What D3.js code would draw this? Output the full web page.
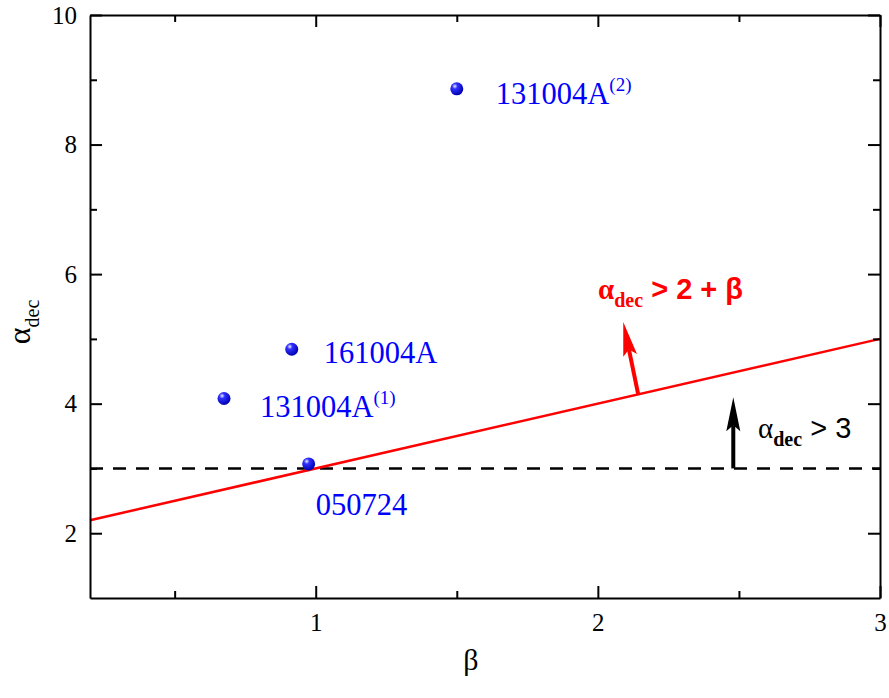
<!DOCTYPE html>
<html>
<head>
<meta charset="utf-8">
<script src="https://cdn.jsdelivr.net/npm/d3@7"></script>
<style>
body { margin: 0; background: #fff; }
svg { display: block; }
</style>
</head>
<body>
<svg id="chart" width="889" height="698"></svg>
<script>
// Data
const grbNames = ["131004A", "161004A", "131004A", "050724"];
const grbSup = ["(2)", "", "(1)", ""];
const betaValues = [1.5, 0.915, 0.675, 0.975];
const alphaValues = [8.86, 4.84, 4.08, 3.07];
const xTicksMajor = [1, 2, 3];
const xTicksMinor = [0.5, 1.5, 2.5];
const yTicksMajor = [2, 4, 6, 8, 10];
const yTicksMinor = [3, 5, 7, 9];
const closureLineX = [0.2, 3];           // alpha = 2 + beta
const constantAlpha = 3;                 // alpha = 3
const redArrow = { x0: 2.143, y0: 4.143, x1: 2.09, y1: 5.26 };
const blackArrow = { x0: 2.48, y0: 3.0, x1: 2.48, y1: 4.1 };

const svg = d3.select("#chart");
const margin = { left: 90, right: 9, top: 15, bottom: 100 };
const W = 889, H = 698;

const x = d3.scaleLinear().domain([0.2, 3]).range([margin.left, W - margin.right]);
const y = d3.scaleLinear().domain([1, 10]).range([H - margin.bottom, margin.top]);

const serif = "Liberation Serif, Times New Roman, serif";
const sans = "Liberation Sans, Arial, sans-serif";

// defs
const defs = svg.append("defs");
const grad = defs.append("radialGradient").attr("id", "ball")
  .attr("cx", "35%").attr("cy", "30%").attr("r", "70%");
grad.append("stop").attr("offset", "0%").attr("stop-color", "#f0f0ff");
grad.append("stop").attr("offset", "30%").attr("stop-color", "#3030ff");
grad.append("stop").attr("offset", "100%").attr("stop-color", "#0000b0");

// Arrow drawing: shaft + long narrow head
function drawArrow(a, color) {
  const x0 = x(a.x0), y0 = y(a.y0), x1 = x(a.x1), y1 = y(a.y1);
  const dx = x1 - x0, dy = y1 - y0, len = Math.hypot(dx, dy);
  const ux = dx / len, uy = dy / len, px = -uy, py = ux;
  const headLen = 34, headW = 7, notch = 6;
  svg.append("line")
    .attr("x1", x0).attr("y1", y0)
    .attr("x2", x1 - ux * (headLen - notch)).attr("y2", y1 - uy * (headLen - notch))
    .attr("stroke", color).attr("stroke-width", 4);
  const bx = x1 - ux * headLen, by = y1 - uy * headLen;
  const nx = x1 - ux * (headLen - notch), ny = y1 - uy * (headLen - notch);
  svg.append("path")
    .attr("d", `M${x1},${y1} L${bx + px * headW},${by + py * headW} L${nx},${ny} L${bx - px * headW},${by - py * headW} Z`)
    .attr("fill", color);
}

// Dashed line
svg.append("line")
  .attr("x1", x(0.2)).attr("x2", x(3))
  .attr("y1", y(constantAlpha)).attr("y2", y(constantAlpha))
  .attr("stroke", "#000").attr("stroke-width", 2.5)
  .attr("stroke-dasharray", "13,10");

// Red closure line
svg.append("line")
  .attr("x1", x(closureLineX[0])).attr("y1", y(2 + closureLineX[0]))
  .attr("x2", x(closureLineX[1])).attr("y2", y(2 + closureLineX[1]))
  .attr("stroke", "#ff0000").attr("stroke-width", 2.5);

drawArrow(redArrow, "#ff0000");
drawArrow(blackArrow, "#000000");

// Axes
const axisG = svg.append("g");
function styleAxis(g) {
  g.selectAll(".domain").attr("stroke", "#000").attr("stroke-width", 2);
  g.selectAll(".tick line").attr("stroke", "#000").attr("stroke-width", 2);
}
function styleLabels(g) {
  g.attr("font-family", serif).attr("font-size", 25);
  g.selectAll("text").style("font-family", serif).style("font-size", "25px").attr("fill", "#000");
}
// bottom major
const bx = axisG.append("g").attr("transform", `translate(0,${y(1)})`)
  .call(d3.axisBottom(x).tickValues(xTicksMajor).tickSizeInner(-12).tickSizeOuter(0).tickPadding(15).tickFormat(d3.format("d")));
styleAxis(bx); styleLabels(bx);
const bxm = axisG.append("g").attr("transform", `translate(0,${y(1)})`)
  .call(d3.axisBottom(x).tickValues(xTicksMinor).tickSizeInner(-7).tickSizeOuter(0).tickFormat(""));
styleAxis(bxm); bxm.select(".domain").remove();
// top
const tx = axisG.append("g").attr("transform", `translate(0,${y(10)})`)
  .call(d3.axisTop(x).tickValues(xTicksMajor).tickSizeInner(-12).tickSizeOuter(0).tickFormat(""));
styleAxis(tx);
const txm = axisG.append("g").attr("transform", `translate(0,${y(10)})`)
  .call(d3.axisTop(x).tickValues(xTicksMinor).tickSizeInner(-7).tickSizeOuter(0).tickFormat(""));
styleAxis(txm); txm.select(".domain").remove();
// left
const ly = axisG.append("g").attr("transform", `translate(${x(0.2)},0)`)
  .call(d3.axisLeft(y).tickValues(yTicksMajor).tickSizeInner(-12).tickSizeOuter(0).tickPadding(13).tickFormat(d3.format("d")));
styleAxis(ly); styleLabels(ly);
const lym = axisG.append("g").attr("transform", `translate(${x(0.2)},0)`)
  .call(d3.axisLeft(y).tickValues(yTicksMinor).tickSizeInner(-7).tickSizeOuter(0).tickFormat(""));
styleAxis(lym); lym.select(".domain").remove();
// right
const ry = axisG.append("g").attr("transform", `translate(${x(3)},0)`)
  .call(d3.axisRight(y).tickValues(yTicksMajor).tickSizeInner(-12).tickSizeOuter(0).tickFormat(""));
styleAxis(ry);
const rym = axisG.append("g").attr("transform", `translate(${x(3)},0)`)
  .call(d3.axisRight(y).tickValues(yTicksMinor).tickSizeInner(-7).tickSizeOuter(0).tickFormat(""));
styleAxis(rym); rym.select(".domain").remove();

// Points
const data = grbNames.map((n, i) => ({ name: n, sup: grbSup[i], b: betaValues[i], a: alphaValues[i] }));
svg.append("g").selectAll("circle").data(data).join("circle")
  .attr("cx", d => x(d.b)).attr("cy", d => y(d.a)).attr("r", 6.5)
  .attr("fill", "url(#ball)");

// Point labels
const labelOffsets = [[39, 15], [32, 14], [36, 19], [7, 51]];
data.forEach((d, i) => {
  const t = svg.append("text")
    .attr("x", x(d.b) + labelOffsets[i][0]).attr("y", y(d.a) + labelOffsets[i][1])
    .style("font-family", serif).style("font-size", "30.5px").attr("fill", "#0000ff");
  t.append("tspan").text(d.name);
  if (d.sup) t.append("tspan").attr("dy", -13).style("font-size", "19px").text(d.sup);
});

// Annotation texts
const redT = svg.append("text").attr("x", 598).attr("y", 299)
  .attr("fill", "#ff0000").style("font-weight", "bold").style("font-family", sans).style("font-size", "29px");
redT.append("tspan").style("font-family", serif).text("α");
redT.append("tspan").style("font-family", serif).style("font-size", "20px").attr("dy", 8).text("dec");
redT.append("tspan").attr("dy", -8).text(" > 2 + β");

const blkT = svg.append("text").attr("x", 758).attr("y", 438)
  .attr("fill", "#000").style("font-family", sans).style("font-size", "29px");
blkT.append("tspan").style("font-family", serif).text("α");
blkT.append("tspan").style("font-family", serif).style("font-weight", "bold").style("font-size", "20px").attr("dy", 8).text("dec");
blkT.append("tspan").attr("dy", -8).text(" > 3");

// Axis titles
svg.append("text").attr("x", x(1.55)).attr("y", 670).attr("text-anchor", "middle")
  .style("font-family", serif).style("font-size", "30px").text("β");
const yt = svg.append("text").attr("transform", `translate(30,322) rotate(-90)`)
  .attr("text-anchor", "middle").style("font-family", serif).style("font-size", "32px");
yt.append("tspan").text("α");
yt.append("tspan").style("font-size", "20px").attr("dy", 9).text("dec");
</script>
</body>
</html>
